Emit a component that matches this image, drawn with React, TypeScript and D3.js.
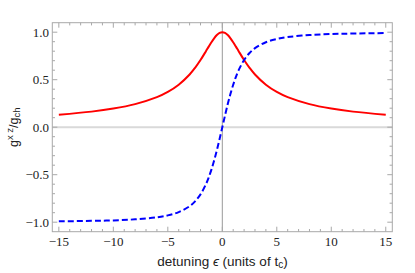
import React from "react";
import * as d3 from "d3";

const eps = [-15, -12, -10, -8, -6, -5, -4, -3, -2.5, -2, -1.5, -1.25, -1, -0.75, -0.5, -0.25, 0, 0.25, 0.5, 0.75, 1, 1.25, 1.5, 2, 2.5, 3, 4, 5, 6, 8, 10, 12, 15];
const redVals = [0.132, 0.164, 0.196, 0.243, 0.316, 0.371, 0.447, 0.555, 0.625, 0.707, 0.8, 0.848, 0.894, 0.936, 0.97, 0.992, 1.0, 0.992, 0.97, 0.936, 0.894, 0.848, 0.8, 0.707, 0.625, 0.555, 0.447, 0.371, 0.316, 0.243, 0.196, 0.164, 0.132];
const blueVals = [-0.991, -0.986, -0.981, -0.97, -0.949, -0.928, -0.894, -0.832, -0.781, -0.707, -0.6, -0.53, -0.447, -0.351, -0.243, -0.124, 0, 0.124, 0.243, 0.351, 0.447, 0.53, 0.6, 0.707, 0.781, 0.832, 0.894, 0.928, 0.949, 0.97, 0.981, 0.986, 0.991];
const xTicks = [-15, -10, -5, 0, 5, 10, 15];
const yTicks = [-1.0, -0.5, 0.0, 0.5, 1.0];

const W = 415, H = 273;
const L = 52.3, R = 392.3, T = 22.7, B = 231.7;

export default function App() {
  const x = d3.scaleLinear().domain([-15.6, 15.6]).range([L, R]);
  const y = d3.scaleLinear().domain([-1.1, 1.1]).range([B, T]);
  const line = d3.line<[number, number]>().x(d => x(d[0])).y(d => y(d[1])).curve(d3.curveCatmullRom);
  const red = line(eps.map((e, i) => [e, redVals[i]]) as [number, number][]) || "";
  const blue = line(eps.map((e, i) => [e, blueVals[i]]) as [number, number][]) || "";
  const xMinor = d3.range(-15, 15.01, 1).filter(v => xTicks.indexOf(v) < 0);
  const yMinor = d3.range(-1.0, 1.001, 0.1).map(v => Math.round(v * 10) / 10).filter(v => yTicks.every(t => Math.abs(t - v) > 1e-6));
  const fc = "#a8a8a8";
  const fmtY = (v: number) => (v < 0 ? "\u2212" : "") + Math.abs(v).toFixed(1);
  const fmtX = (v: number) => (v < 0 ? "\u2212" : "") + Math.abs(v);
  return (
    <svg width={W} height={H} style={{ position: "absolute", left: 0, top: 0, background: "#fff" }}>
      <line x1={L} x2={R} y1={y(0)} y2={y(0)} stroke="#d9d9d9" strokeWidth={2} />
      <line x1={x(0)} x2={x(0)} y1={T} y2={B} stroke="#999" strokeWidth={1} />
      <path d={red} fill="none" stroke="#ff0000" strokeWidth={2} />
      <path d={blue} fill="none" stroke="#0000ff" strokeWidth={2} strokeDasharray="6,3" />
      <rect x={L} y={T} width={R - L} height={B - T} fill="none" stroke={fc} strokeWidth={1} />
      {xTicks.map(v => (
        <g key={"xt" + v}>
          <line x1={x(v)} x2={x(v)} y1={B} y2={B - 5} stroke={fc} />
          <line x1={x(v)} x2={x(v)} y1={T} y2={T + 5} stroke={fc} />
          <text x={x(v)} y={246} textAnchor="middle" fontFamily="Liberation Serif" fontSize={13} fill="#222">{fmtX(v)}</text>
        </g>
      ))}
      {xMinor.map(v => (
        <g key={"xm" + v}>
          <line x1={x(v)} x2={x(v)} y1={B} y2={B - 2.7} stroke={fc} />
          <line x1={x(v)} x2={x(v)} y1={T} y2={T + 2.7} stroke={fc} />
        </g>
      ))}
      {yTicks.map(v => (
        <g key={"yt" + v}>
          <line x1={L} x2={L + 5} y1={y(v)} y2={y(v)} stroke={fc} />
          <line x1={R} x2={R - 5} y1={y(v)} y2={y(v)} stroke={fc} />
          <text x={49} y={y(v) + 4.5} textAnchor="end" fontFamily="Liberation Serif" fontSize={13} fill="#222">{fmtY(v)}</text>
        </g>
      ))}
      {yMinor.map(v => (
        <g key={"ym" + v}>
          <line x1={L} x2={L + 2.7} y1={y(v)} y2={y(v)} stroke={fc} />
          <line x1={R} x2={R - 2.7} y1={y(v)} y2={y(v)} stroke={fc} />
        </g>
      ))}
      <text x={222.5} y={266} textAnchor="middle" fontFamily="Liberation Sans" fontSize={13.5} fill="#222">
        detuning <tspan fontStyle="italic">ϵ</tspan> (units of t<tspan fontSize={10} dy={2}>c</tspan><tspan dy={-2}>)</tspan>
      </text>
      <text transform={`translate(18,${y(0)}) rotate(-90)`} textAnchor="middle" fontFamily="Liberation Sans" fontSize={12.5} fill="#222">
        g<tspan fontSize={9.5} dy={-5}>x z</tspan><tspan dy={5}>/g</tspan><tspan fontSize={9.5} dy={2}>ch</tspan>
      </text>
    </svg>
  );
}
